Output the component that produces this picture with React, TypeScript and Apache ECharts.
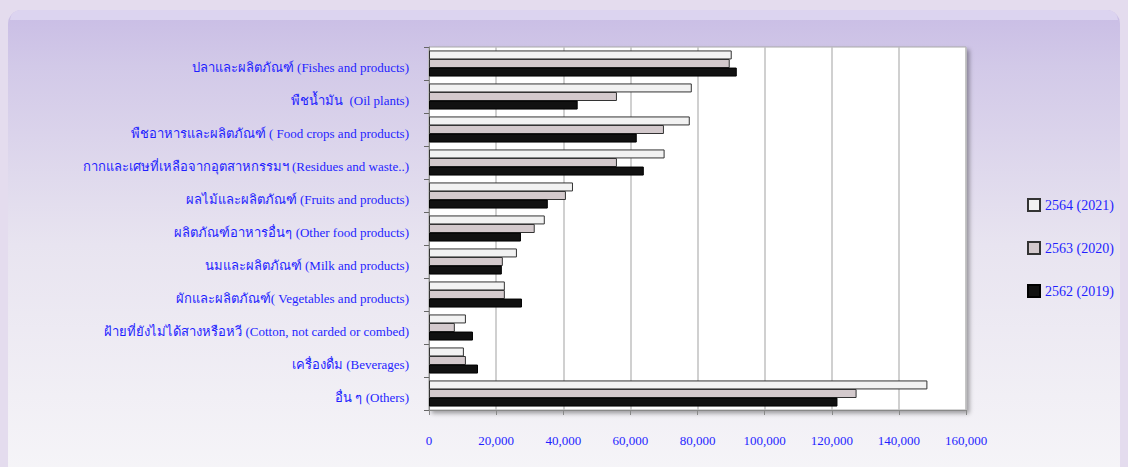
import React, { useEffect, useRef } from "react";
import * as echarts from "echarts";

const categories = [
  "ปลาและผลิตภัณฑ์ (Fishes and products)",
  "พืชน้ำมัน  (Oil plants)",
  "พืชอาหารและผลิตภัณฑ์ ( Food crops and products)",
  "กากและเศษที่เหลือจากอุตสาหกรรมฯ (Residues and waste..)",
  "ผลไม้และผลิตภัณฑ์ (Fruits and products)",
  "ผลิตภัณฑ์อาหารอื่นๆ (Other food products)",
  "นมและผลิตภัณฑ์ (Milk and products)",
  "ผักและผลิตภัณฑ์( Vegetables and products)",
  "ฝ้ายที่ยังไม่ได้สางหรือหวี (Cotton, not carded or combed)",
  "เครื่องดื่ม (Beverages)",
  "อื่น ๆ (Others)",
];

const seriesNames = ["2564 (2021)", "2563 (2020)", "2562 (2019)"];

const values2564 = [90200, 78300, 77700, 70200, 42900, 34500, 26200, 22600, 11000, 10400, 148500];
const values2563 = [89600, 56000, 70000, 56000, 40800, 31500, 22000, 22600, 7700, 11000, 127400];
const values2562 = [91700, 44300, 61900, 64000, 35400, 27400, 21700, 27700, 13100, 14600, 121700];

const xTicks = [0, 20000, 40000, 60000, 80000, 100000, 120000, 140000, 160000];

const BLUE = "#1f1fff";
const FONT = "'Liberation Serif', 'Times New Roman', serif";

export default function App() {
  const ref = useRef<HTMLDivElement>(null);
  useEffect(() => {
    if (!ref.current) return;
    const chart = echarts.init(ref.current, undefined, { renderer: "svg" });
    const fills = ["#f2f2f2", "#d3c9cc", "#111111"];
    const dataSets = [values2564, values2563, values2562];
    chart.setOption({
      animation: false,
      backgroundColor: "#e4dcee",
      graphic: [
        {
          type: "rect",
          z: -10,
          shape: { x: 8, y: 10, width: 1112, height: 470, r: 14 },
          style: {
            fill: new echarts.graphic.LinearGradient(0, 0, 0, 1, [
              { offset: 0, color: "#c9bde5" },
              { offset: 0.12, color: "#d2c9e8" },
              { offset: 0.5, color: "#e8e4f0" },
              { offset: 1, color: "#f6f5f8" },
            ]),
          },
        },
        {
          type: "rect",
          z: -9,
          shape: { x: 10, y: 10, width: 1108, height: 10, r: [14, 14, 0, 0] },
          style: { fill: "#dcd4f0" },
        },
      ],
      grid: {
        left: 429,
        right: 162,
        top: 47,
        bottom: 57,
        show: true,
        backgroundColor: "#ffffff",
        borderColor: "#aaaaaa",
        borderWidth: 1,
        shadowColor: "rgba(0,0,0,0.35)",
        shadowBlur: 4,
        shadowOffsetX: 3,
        shadowOffsetY: 3,
      },
      legend: {
        orient: "vertical",
        left: 1022,
        top: 193,
        itemGap: 29,
        itemWidth: 12,
        itemHeight: 12,
        icon: "rect",
        data: seriesNames,
        textStyle: { color: BLUE, fontFamily: FONT, fontSize: 14 },
      },
      xAxis: {
        type: "value",
        min: 0,
        max: 160000,
        interval: 20000,
        axisLine: { show: true, lineStyle: { color: "#888" } },
        axisTick: { show: true, length: 5, lineStyle: { color: "#888" } },
        splitLine: { show: true, lineStyle: { color: "#c0c0c0", width: 1.5 } },
        axisLabel: {
          color: BLUE,
          fontFamily: FONT,
          fontSize: 13,
          margin: 24,
          formatter: (v: number) => (xTicks.includes(v) ? v.toLocaleString("en-US") : ""),
        },
      },
      yAxis: {
        type: "category",
        inverse: true,
        data: categories,
        axisLine: { show: true, lineStyle: { color: "#888" } },
        axisTick: { show: true, length: 5, lineStyle: { color: "#666" } },
        axisLabel: {
          margin: 20,
          formatter: (v: string) => `{a|${v}}`,
          rich: {
            a: {
              color: BLUE,
              fontFamily: FONT,
              fontSize: 13,
              padding: [8, 0, 0, 0],
            },
          },
        },
      },
      series: seriesNames.map((name, i) => ({
        name,
        type: "bar",
        data: dataSets[i],
        barWidth: 9,
        barGap: "-5%",
        itemStyle: {
          color: fills[i],
          borderColor: i === 2 ? "#000" : "#333",
          borderWidth: 1,
        },
      })),
    });
    return () => chart.dispose();
  }, []);
  return (
    <div
      ref={ref}
      style={{ position: "fixed", left: 0, top: 0, width: 1128, height: 467 }}
    />
  );
}
